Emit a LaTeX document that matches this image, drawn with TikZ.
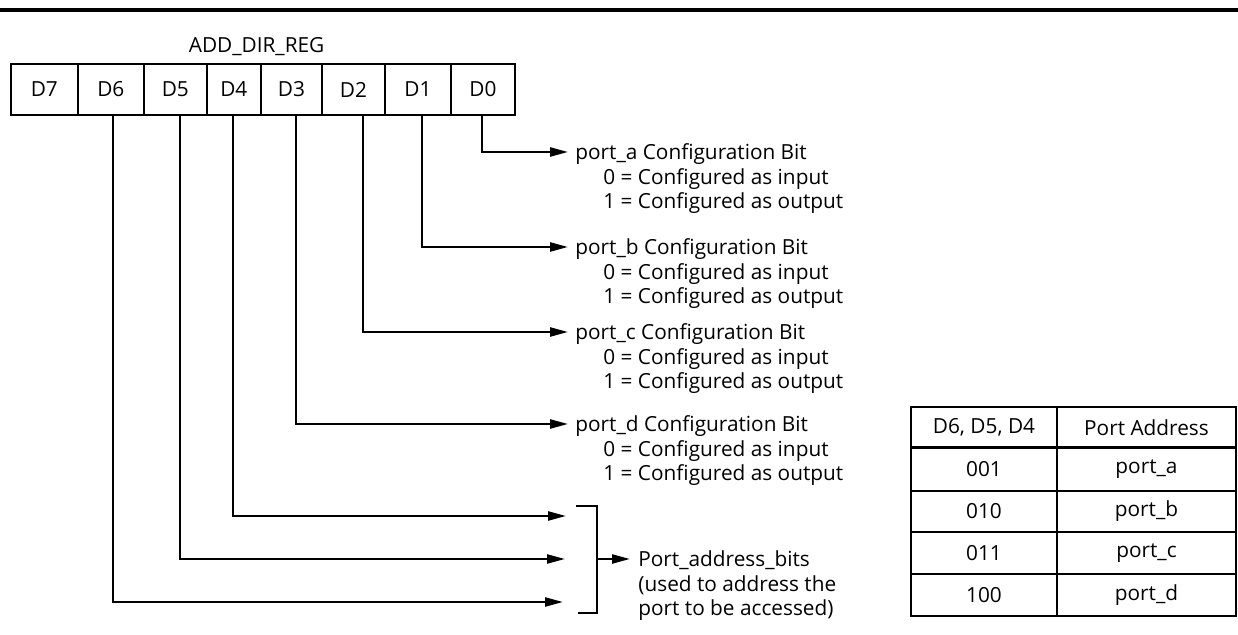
\documentclass[tikz,border=0pt]{standalone}
\usepackage{fontspec}
\setmainfont{Open Sans}
\usetikzlibrary{arrows.meta}
\tikzset{
    regcell/.style={draw, line width=1.2pt, minimum height=25.5pt, inner sep=0pt},
    tabcell/.style={draw, line width=1.2pt, inner sep=0pt},
    conn/.style={line width=1.2pt, -{Triangle[length=9pt,width=4.5pt]}},
    desc/.style={align=left, inner sep=0pt, anchor=base west},
}
\begin{document}
\begin{tikzpicture}[x=0.5pt, y=-0.5pt, font=\fontsize{10.4}{12.2}\selectfont]
        \useasboundingbox (0, 0) rectangle (1238, 635);
        \draw[line width=1.65pt] (0, 10) -- (1238, 10);

        \node (regname) [anchor=base] at (256.6, 52.7) {ADD\_DIR\_REG};
        \node (d7) [regcell, minimum width=33.35pt] at (44.35, 89.5) {D7};
        \node (d6) [regcell, minimum width=33.15pt] at (110.85, 89.5) {D6};
        \node (d5) [regcell, minimum width=31.35pt] at (175.35, 89.5) {D5};
        \node (d4) [regcell, minimum width=27.15pt] at (233.85, 89.5) {D4};
        \node (d3) [regcell, minimum width=30.5pt] at (291.5, 89.5) {D3};
        \node (d2) [regcell, minimum width=31.5pt] at (353.5, 89.5) {D2};
        \node (d1) [regcell, minimum width=33pt] at (418, 89.5) {D1};
        \node (d0) [regcell, minimum width=32pt] at (483, 89.5) {D0};

        \node (pa) [desc] at (575, 208.8) {port\_a Configuration Bit\\\hspace*{14pt}0 = Configured as input\\\hspace*{14pt}1 = Configured as output};
        \node (pb) [desc] at (575, 303.8) {port\_b Configuration Bit\\\hspace*{14pt}0 = Configured as input\\\hspace*{14pt}1 = Configured as output};
        \node (pc) [desc] at (575, 388.8) {port\_c Configuration Bit\\\hspace*{14pt}0 = Configured as input\\\hspace*{14pt}1 = Configured as output};
        \node (pd) [desc] at (575, 480.8) {port\_d Configuration Bit\\\hspace*{14pt}0 = Configured as input\\\hspace*{14pt}1 = Configured as output};

        \draw[conn] ([xshift=-0.5pt]d0.south) |- ([shift={(-3.5pt,28.4pt)}]pa.base west);
        \draw[conn] ([xshift=2pt]d1.south) |- ([shift={(-3.5pt,28.4pt)}]pb.base west);
        \draw[conn] ([xshift=4.75pt]d2.south) |- ([shift={(-3.5pt,28.4pt)}]pc.base west);
        \draw[conn] ([xshift=2.25pt]d3.south) |- ([shift={(-3.5pt,28.4pt)}]pd.base west);

        \coordinate (in4) at (566, 516);
        \coordinate (in5) at (565, 559);
        \coordinate (in6) at (563, 602);
        \draw[conn] ([xshift=-0.5pt]d4.south) |- (in4);
        \draw[conn] ([xshift=2.25pt]d5.south) |- (in5);
        \draw[conn] ([xshift=1pt]d6.south) |- (in6);

        \draw[line width=1.2pt] (576, 506) -| (597, 613) -- (578, 613);
        \coordinate (brk) at (597, 559);
        \node (addr) [desc] at (638, 615.8) {Port\_address\_bits\\(used to address the\\port to be accessed)};
        \draw[conn] (brk) -- ([shift={(-4pt,28.4pt)}]addr.base west);

        \node (k1) [tabcell, minimum width=73pt, minimum height=20.25pt] at (984, 427.25) {D6, D5, D4};
        \node (v1) [tabcell, minimum width=89.5pt, minimum height=20.25pt] at (1146.5, 427.25) {Port Address};
        \node (k2) [tabcell, minimum width=73pt, minimum height=21.75pt] at (984, 469.25) {001};
        \node (v2) [tabcell, minimum width=89.5pt, minimum height=21.75pt] at (1146.5, 469.25) {port\_a};
        \node (k3) [tabcell, minimum width=73pt, minimum height=20.5pt] at (984, 511.5) {010};
        \node (v3) [tabcell, minimum width=89.5pt, minimum height=20.5pt] at (1146.5, 511.5) {port\_b};
        \node (k4) [tabcell, minimum width=73pt, minimum height=21pt] at (984, 553) {011};
        \node (v4) [tabcell, minimum width=89.5pt, minimum height=21pt] at (1146.5, 553) {port\_c};
        \node (k5) [tabcell, minimum width=73pt, minimum height=21pt] at (984, 595) {100};
        \node (v5) [tabcell, minimum width=89.5pt, minimum height=21pt] at (1146.5, 595) {port\_d};
    \end{tikzpicture}
\end{document}
